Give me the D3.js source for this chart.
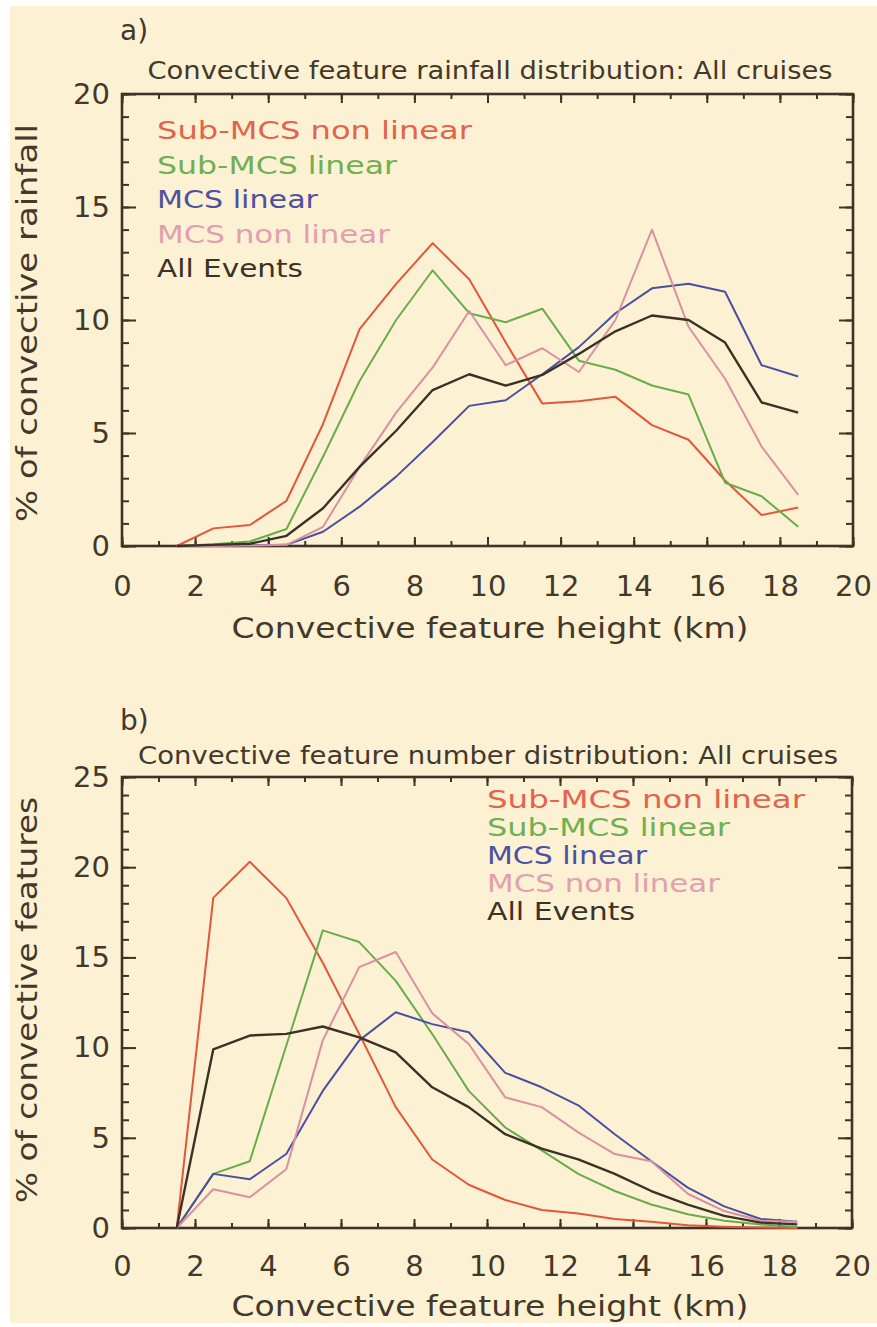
<!DOCTYPE html>
<html>
<head>
<meta charset="utf-8">
<script src="https://cdn.jsdelivr.net/npm/d3@7/dist/d3.min.js"></script>
<style>
  html, body { margin: 0; padding: 0; background: #ffffff; }
  svg { display: block; }
  text { font-family: "DejaVu Sans", "Liberation Sans", sans-serif; fill: #43382a; }
</style>
</head>
<body>
<svg id="fig" width="877" height="1327"></svg>
<script>
// Convective feature height bins (km, bin centres)
const heightKm = [1.5, 2.5, 3.5, 4.5, 5.5, 6.5, 7.5, 8.5, 9.5, 10.5, 11.5, 12.5, 13.5, 14.5, 15.5, 16.5, 17.5, 18.5];

// Category names and colours
const categories = ["Sub-MCS non linear", "Sub-MCS linear", "MCS linear", "MCS non linear", "All Events"];
const lineColors = ["#e2573c", "#69ad4a", "#4b4f9e", "#d890a2", "#3b3226"];
const labelColors = ["#e2644a", "#6fb052", "#4d52a0", "#e0a0ae", "#3b3226"];

// (a) % of convective rainfall per height bin
const rainSubNonLinear = [0, 0.78, 0.93, 2.0, 5.4, 9.6, 11.6, 13.4, 11.8, 9.0, 6.3, 6.4, 6.6, 5.35, 4.7, 2.9, 1.37, 1.7];
const rainSubLinear    = [0, 0.08, 0.2, 0.75, 3.95, 7.3, 10.0, 12.2, 10.3, 9.9, 10.5, 8.2, 7.8, 7.1, 6.7, 2.8, 2.2, 0.85];
const rainMcsLinear    = [0, 0.02, 0.03, 0.05, 0.63, 1.74, 3.07, 4.6, 6.2, 6.45, 7.6, 8.8, 10.3, 11.4, 11.6, 11.25, 8.0, 7.5];
const rainMcsNonLinear = [0, 0, 0.02, 0.05, 0.85, 3.5, 5.9, 7.9, 10.4, 8.0, 8.75, 7.7, 10.0, 14.0, 9.7, 7.4, 4.4, 2.26];
const rainAllEvents    = [0, 0.05, 0.1, 0.45, 1.67, 3.5, 5.1, 6.9, 7.6, 7.1, 7.57, 8.5, 9.5, 10.2, 10.0, 9.0, 6.35, 5.9];

// (b) % of convective features per height bin
const countSubNonLinear = [0, 18.3, 20.3, 18.3, 14.7, 10.75, 6.7, 3.8, 2.4, 1.55, 1.0, 0.8, 0.5, 0.35, 0.15, 0.07, 0.03, 0];
const countSubLinear    = [0, 3.0, 3.7, 10.1, 16.5, 15.85, 13.7, 10.75, 7.6, 5.57, 4.3, 3.0, 2.05, 1.3, 0.76, 0.4, 0.2, 0.05];
const countMcsLinear    = [0, 3.0, 2.7, 4.1, 7.6, 10.4, 11.96, 11.3, 10.85, 8.6, 7.8, 6.8, 5.2, 3.7, 2.24, 1.2, 0.5, 0.35];
const countMcsNonLinear = [0, 2.15, 1.7, 3.26, 10.4, 14.46, 15.3, 11.9, 10.2, 7.24, 6.7, 5.3, 4.1, 3.7, 1.9, 0.94, 0.4, 0.35];
const countAllEvents    = [0, 9.9, 10.67, 10.76, 11.17, 10.57, 9.74, 7.8, 6.7, 5.2, 4.4, 3.8, 3.0, 2.05, 1.3, 0.67, 0.3, 0.2];

// Tick values
const xMajorTicks = [0, 2, 4, 6, 8, 10, 12, 14, 16, 18, 20];
const xMinorTicks = d3.range(0, 21, 1);
const yMajorTicksA = [0, 5, 10, 15, 20];
const yMajorTicksB = [0, 5, 10, 15, 20, 25];

const ink = "#3d3326";
const svg = d3.select("#fig");

// paper background
svg.append("rect").attr("x", 10).attr("y", 6).attr("width", 867).attr("height", 1317).attr("fill", "#fdf1d4");

function panel(cfg) {
  const g = svg.append("g");
  const x = d3.scaleLinear().domain([0, 20]).range([cfg.left, cfg.right]);
  const y = d3.scaleLinear().domain([0, cfg.yMax]).range([cfg.bottom, cfg.top]);
  const yMinor = d3.range(0, cfg.yMax + 1, 1);

  const styleAxis = sel => {
    sel.select(".domain").remove();
    sel.selectAll(".tick line").attr("stroke", ink).attr("stroke-width", 2);
    sel.selectAll(".tick text").style("fill", "#43382a").style("font-family", '"DejaVu Sans", sans-serif');
  };

  // bottom axis with labels, ticks pointing inward
  g.append("g").attr("transform", `translate(0,${cfg.bottom})`)
    .call(d3.axisBottom(x).tickValues(xMinorTicks).tickFormat("").tickSize(-5))
    .call(styleAxis);
  g.append("g").attr("transform", `translate(0,${cfg.bottom})`)
    .call(d3.axisBottom(x).tickValues(xMajorTicks).tickFormat(d3.format("d")).tickSize(-9).tickPadding(cfg.xLabelPad))
    .call(styleAxis)
    .selectAll(".tick text").attr("font-size", 29);
  // top axis, ticks only
  g.append("g").attr("transform", `translate(0,${cfg.top})`)
    .call(d3.axisTop(x).tickValues(xMinorTicks).tickFormat("").tickSize(-5))
    .call(styleAxis);
  g.append("g").attr("transform", `translate(0,${cfg.top})`)
    .call(d3.axisTop(x).tickValues(xMajorTicks).tickFormat("").tickSize(-9))
    .call(styleAxis);
  // left axis with labels
  g.append("g").attr("transform", `translate(${cfg.left},0)`)
    .call(d3.axisLeft(y).tickValues(yMinor).tickFormat("").tickSize(-7))
    .call(styleAxis);
  g.append("g").attr("transform", `translate(${cfg.left},0)`)
    .call(d3.axisLeft(y).tickValues(cfg.yMajor).tickFormat(d3.format("d")).tickSize(-14).tickPadding(12))
    .call(styleAxis)
    .selectAll(".tick text").attr("font-size", 29);
  // right axis, ticks only
  g.append("g").attr("transform", `translate(${cfg.right},0)`)
    .call(d3.axisRight(y).tickValues(yMinor).tickFormat("").tickSize(-7))
    .call(styleAxis);
  g.append("g").attr("transform", `translate(${cfg.right},0)`)
    .call(d3.axisRight(y).tickValues(cfg.yMajor).tickFormat("").tickSize(-14))
    .call(styleAxis);

  // plot frame
  g.append("rect")
    .attr("x", cfg.left).attr("y", cfg.top)
    .attr("width", cfg.right - cfg.left).attr("height", cfg.bottom - cfg.top)
    .attr("fill", "none").attr("stroke", ink).attr("stroke-width", 2.6);

  // series
  const line = d3.line().x((d, i) => x(heightKm[i])).y(d => y(d));
  cfg.series.forEach((vals, k) => {
    g.append("path").datum(vals)
      .attr("d", line)
      .attr("fill", "none")
      .attr("stroke", lineColors[k])
      .attr("stroke-width", k === 4 ? 2.4 : 2)
      .attr("stroke-linejoin", "round");
  });

  // legend
  categories.forEach((name, k) => {
    g.append("text")
      .attr("x", cfg.legendX).attr("y", cfg.legendY + k * cfg.legendStep)
      .attr("font-size", 25)
      .attr("textLength", cfg.legendWidths[k]).attr("lengthAdjust", "spacingAndGlyphs")
      .style("fill", labelColors[k])
      .text(name);
  });

  // panel letter
  g.append("text").attr("x", 120).attr("y", cfg.letterY).attr("font-size", 28).text(cfg.letter);

  // title
  g.append("text").attr("x", cfg.titleX).attr("y", cfg.titleY)
    .attr("text-anchor", "middle").attr("font-size", 25)
    .attr("textLength", cfg.titleWidth).attr("lengthAdjust", "spacingAndGlyphs")
    .text(cfg.title);

  // axis titles
  g.append("text").attr("x", 490).attr("y", cfg.xTitleY)
    .attr("text-anchor", "middle").attr("font-size", 29)
    .attr("textLength", 517).attr("lengthAdjust", "spacingAndGlyphs")
    .text("Convective feature height (km)");
  g.append("text")
    .attr("transform", `translate(37,${cfg.yTitleCenter}) rotate(-90)`)
    .attr("text-anchor", "middle").attr("font-size", 29)
    .attr("textLength", cfg.yTitleWidth).attr("lengthAdjust", "spacingAndGlyphs")
    .text(cfg.yTitle);
}

panel({
  left: 122, right: 853, top: 94, bottom: 546, yMax: 20, yMajor: yMajorTicksA, xLabelPad: 29,
  series: [rainSubNonLinear, rainSubLinear, rainMcsLinear, rainMcsNonLinear, rainAllEvents],
  legendX: 157, legendY: 139, legendStep: 34.5, legendWidths: [315, 240, 161, 233, 146],
  letter: "a)", letterY: 40,
  title: "Convective feature rainfall distribution: All cruises", titleX: 490, titleY: 79, titleWidth: 685,
  xTitleY: 638,
  yTitle: "% of convective rainfall", yTitleCenter: 323, yTitleWidth: 398
});

panel({
  left: 122, right: 852, top: 777, bottom: 1228, yMax: 25, yMajor: yMajorTicksB, xLabelPad: 27,
  series: [countSubNonLinear, countSubLinear, countMcsLinear, countMcsNonLinear, countAllEvents],
  legendX: 487, legendY: 808, legendStep: 28, legendWidths: [318, 243, 160, 233, 148],
  letter: "b)", letterY: 730,
  title: "Convective feature number distribution: All cruises", titleX: 488, titleY: 764, titleWidth: 700,
  xTitleY: 1316,
  yTitle: "% of convective features", yTitleCenter: 1000, yTitleWidth: 406
});
</script>
</body>
</html>
